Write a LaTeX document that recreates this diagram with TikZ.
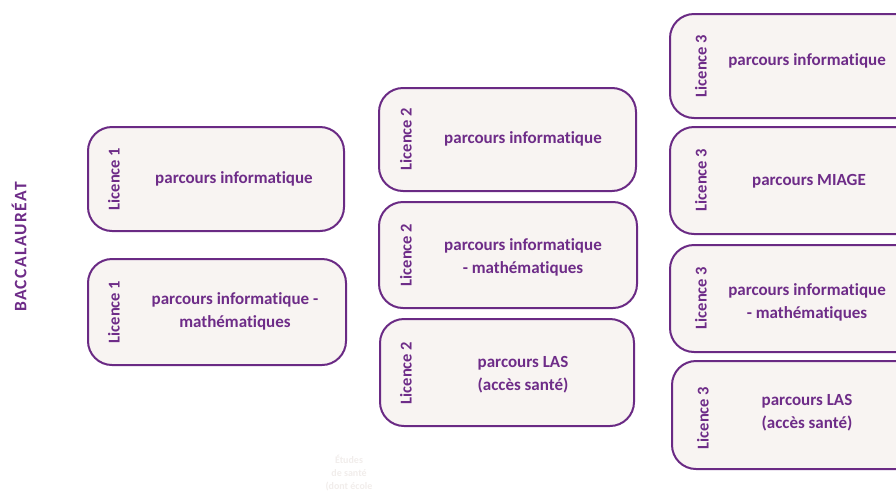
\documentclass[tikz,border=0pt]{standalone}
\usepackage{fontspec}
\setmainfont{Carlito}[Ligatures=NoCommon]
\usetikzlibrary{calc}
\definecolor{pur}{HTML}{6A2A84}
\definecolor{txt}{HTML}{6E2C88}
\definecolor{boxfill}{HTML}{F8F4F2}
\definecolor{faint}{HTML}{F1EDEB}
\tikzset{
  box/.style={draw=pur, line width=2pt, fill=boxfill, rounded corners=24pt, inner sep=0pt},
  lic/.style={rotate=90, font=\fontsize{16.5}{18}\selectfont\bfseries, text=txt, inner sep=0pt},
  par/.style={font=\fontsize{17}{23}\selectfont\bfseries, text=txt, align=center, inner sep=0pt},
}
\begin{document}
\begin{tikzpicture}[x=1pt,y=-1pt]
\useasboundingbox (0,0) rectangle (896,493);
% Baccalaureat
\node[rotate=90, font=\fontsize{17.5}{18}\selectfont\bfseries\addfontfeature{LetterSpace=8}, text=txt, inner sep=0pt] (bac) at (19,247) {BACCALAURÉAT};
% Licence 1
\node[box, minimum width=256pt, minimum height=104pt] (l1a) at (216,179) {};
\node[lic] (l1al) at (114,179) {Licence 1};
\node[par] (l1at) at (234,179) {parcours informatique};
\node[box, minimum width=258pt, minimum height=106pt] (l1b) at (217,312) {};
\node[lic] (l1bl) at (114,312) {Licence 1};
\node[par] (l1bt) at (235,311) {parcours informatique -\\mathématiques};
% Licence 2
\node[box, minimum width=257pt, minimum height=103pt] (l2a) at (507.5,139.5) {};
\node[lic] (l2al) at (406,139) {Licence 2};
\node[par] (l2at) at (523,139) {parcours informatique};
\node[box, minimum width=258pt, minimum height=106pt] (l2b) at (508,255) {};
\node[lic] (l2bl) at (406,255) {Licence 2};
\node[par] (l2bt) at (523,257) {parcours informatique\\- mathématiques};
\node[box, minimum width=254pt, minimum height=107pt] (l2c) at (507,372.5) {};
\node[lic] (l2cl) at (406,373) {Licence 2};
\node[par] (l2ct) at (523,375) {parcours LAS\\(accès santé)};
% Licence 3
\node[box, minimum width=250pt, minimum height=104pt] (l3a) at (795,66) {};
\node[lic] (l3al) at (701,66) {Licence 3};
\node[par] (l3at) at (807,61) {parcours informatique};
\node[box, minimum width=250pt, minimum height=107pt] (l3b) at (795,180.5) {};
\node[lic] (l3bl) at (701,180) {Licence 3};
\node[par] (l3bt) at (809,181) {parcours MIAGE};
\node[box, minimum width=250pt, minimum height=107pt] (l3c) at (795,298.5) {};
\node[lic] (l3cl) at (701,298) {Licence 3};
\node[par] (l3ct) at (807,302) {parcours informatique\\- mathématiques};
\node[box, minimum width=248pt, minimum height=108pt] (l3d) at (796,415) {};
\node[lic] (l3dl) at (703,418) {Licence 3};
\node[par] (l3dt) at (807,413) {parcours LAS\\(accès santé)};
% faint text
\node[font=\fontsize{10}{13}\selectfont\bfseries, text=faint, align=center, inner sep=0pt, anchor=north] (sante) at (349,455) {Études\\de santé\\(dont école};
\end{tikzpicture}
\end{document}
